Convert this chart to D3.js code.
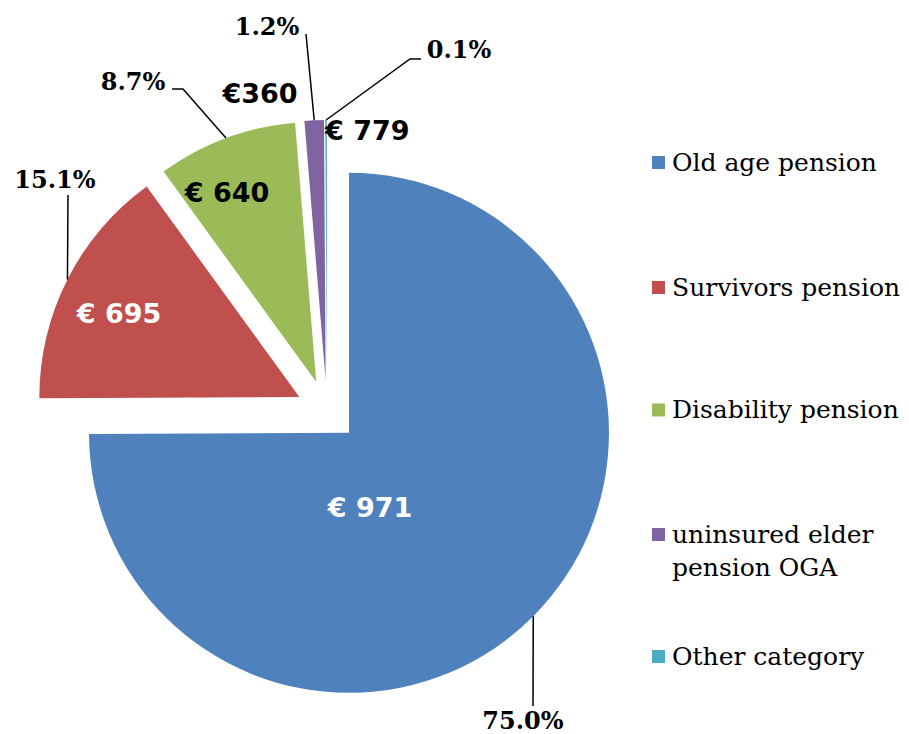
<!DOCTYPE html>
<html>
<head>
<meta charset="utf-8">
<script src="https://cdn.jsdelivr.net/npm/d3@7"></script>
<style>
  body { margin: 0; background: #fff; }
  svg { display: block; }
</style>
</head>
<body>
<div id="chart"></div>
<script>
const categories = ["Old age pension", "Survivors pension", "Disability pension", "uninsured elder pension OGA", "Other category"];
const shares = [75.0, 15.1, 8.7, 1.2, 0.1];
const amounts = ["€ 971", "€ 695", "€ 640", "€360", "€ 779"];
const shareLabels = ["75.0%", "15.1%", "8.7%", "1.2%", "0.1%"];
const colors = ["#4F81BD", "#C0504D", "#9BBB59", "#8064A2", "#4BACC6"];

const width = 909, height = 734;
const cx = 327, cy = 411, radius = 260, explode = 31;

// where the text sits (label positions, leader knees)
const amountPos = [
  { x: 370, y: 517, anchor: "middle", fill: "#fff" },
  { x: 119, y: 323, anchor: "middle", fill: "#fff" },
  { x: 227, y: 202, anchor: "middle", fill: "#000" },
  { x: 260, y: 103, anchor: "middle", fill: "#000" },
  { x: 325, y: 140, anchor: "start", fill: "#000" }
];
const sharePos = [
  { x: 523, y: 729, knees: [[533, 706]] },
  { x: 55, y: 188, knees: [[68, 195]] },
  { x: 133, y: 90, knees: [[183, 89], [172, 89]] },
  { x: 267, y: 35, knees: [[306, 34]] },
  { x: 459, y: 58, knees: [[410, 59], [421, 59]] }
];

const svg = d3.select("#chart")
    .append("svg")
    .attr("width", width)
    .attr("height", height);

const pie = d3.pie().sort(null).value(d => d);
const arcs = pie(shares);

const arc = d3.arc().innerRadius(0).outerRadius(radius);

const offset = d => {
    const a = (d.startAngle + d.endAngle) / 2;
    return [Math.sin(a) * explode, -Math.cos(a) * explode];
};

const g = svg.append("g").attr("transform", `translate(${cx},${cy})`);

g.selectAll(".slice")
    .data(arcs)
    .join("path")
    .attr("class", "slice")
    .attr("transform", d => `translate(${offset(d)})`)
    .attr("d", arc)
    .attr("fill", (d, i) => colors[i]);

// leader lines from the slice edge to the percentage labels
arcs.forEach((d, i) => {
    const a = (d.startAngle + d.endAngle) / 2;
    const [ox, oy] = offset(d);
    const start = [cx + ox + Math.sin(a) * radius, cy + oy - Math.cos(a) * radius];
    svg.append("path")
        .attr("d", d3.line()([start, ...sharePos[i].knees]))
        .attr("fill", "none")
        .attr("stroke", "#000")
        .attr("stroke-width", 1.5);
});

svg.selectAll(".share")
    .data(shareLabels)
    .join("text")
    .attr("class", "share")
    .attr("x", (d, i) => sharePos[i].x)
    .attr("y", (d, i) => sharePos[i].y)
    .attr("text-anchor", "middle")
    .style("font-family", "'DejaVu Serif', serif")
    .style("font-weight", "bold")
    .style("font-size", "24px")
    .text(d => d);

svg.selectAll(".amount")
    .data(amounts)
    .join("text")
    .attr("class", "amount")
    .attr("x", (d, i) => amountPos[i].x)
    .attr("y", (d, i) => amountPos[i].y)
    .attr("text-anchor", (d, i) => amountPos[i].anchor)
    .attr("fill", (d, i) => amountPos[i].fill)
    .style("font-family", "'DejaVu Sans', Verdana, sans-serif")
    .style("font-weight", "bold")
    .style("font-size", "27px")
    .text(d => d);

// legend
const legendY = [162.5, 287.5, 410, 534.5, 656.5];
const legend = svg.append("g");
categories.forEach((c, i) => {
    legend.append("rect")
        .attr("x", 652)
        .attr("y", legendY[i] - 6.5)
        .attr("width", 13)
        .attr("height", 13)
        .attr("fill", colors[i]);
    const lines = i === 3 ? ["uninsured elder", "pension OGA"] : [c];
    const t = legend.append("text")
        .attr("x", 672)
        .attr("y", legendY[i] + 8)
        .style("font-family", "'DejaVu Serif', serif")
        .style("font-size", "25px")
        .attr("fill", "#000");
    lines.forEach((l, j) => {
        t.append("tspan").attr("x", 672).attr("dy", j ? 33 : 0).text(l);
    });
});
</script>
</body>
</html>
